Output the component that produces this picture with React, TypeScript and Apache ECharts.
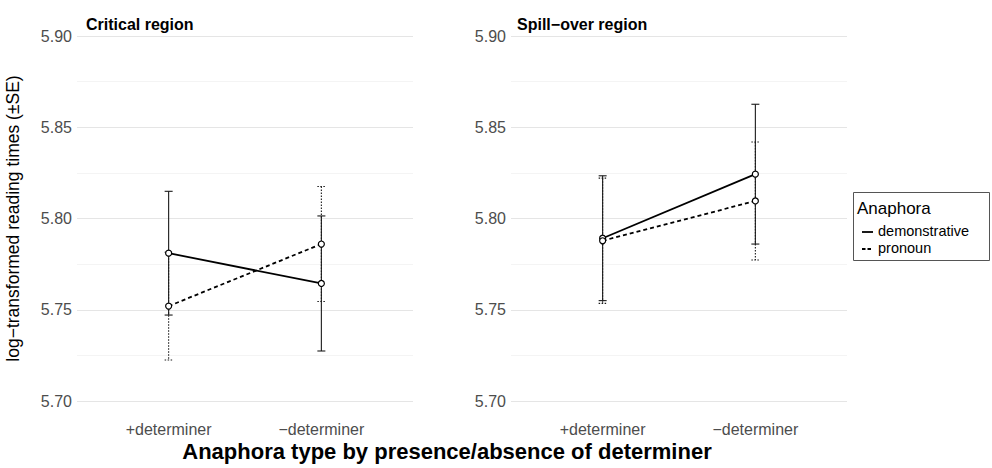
import React, { useEffect, useRef } from "react";
import * as echarts from "echarts";

const categories = ["+determiner", "−determiner"];
const xPositions = [1, 2];
const panelTitles = ["Critical region", "Spill−over region"];
const legendTitle = "Anaphora";
const seriesNames = ["demonstrative", "pronoun"];

const critDemMean = [5.781, 5.7644];
const critDemSE = [0.0339, 0.037];
const critProMean = [5.752, 5.786];
const critProSE = [0.0295, 0.0315];

const spillDemMean = [5.7892, 5.8243];
const spillDemSE = [0.0342, 0.0383];
const spillProMean = [5.7878, 5.8096];
const spillProSE = [0.0343, 0.0323];

const yTicks = [5.7, 5.75, 5.8, 5.85, 5.9];

const FONT = "'Liberation Sans', Arial, Helvetica, sans-serif";

function pts(means: number[]) {
  return means.map((m, i) => [xPositions[i], m]);
}
function bars(means: number[], se: number[]) {
  return means.map((m, i) => [xPositions[i], m - se[i], m + se[i]]);
}

function errorSeries(data: number[][], gi: number, dotted: boolean, z: number) {
  return {
    type: "custom",
    xAxisIndex: gi,
    yAxisIndex: gi,
    z,
    silent: true,
    data,
    renderItem: (params: any, api: any) => {
      const x = api.value(0);
      const lo = api.value(1);
      const hi = api.value(2);
      const pLo = api.coord([x, lo]);
      const pHi = api.coord([x, hi]);
      const hw = 4;
      const style: any = {
        stroke: "#1a1a1a",
        lineWidth: 1.1,
        lineDash: dotted ? [1.5, 1.5] : null,
        fill: null,
      };
      return {
        type: "group",
        children: [
          { type: "line", shape: { x1: pHi[0], y1: pHi[1], x2: pLo[0], y2: pLo[1] }, style },
          { type: "line", shape: { x1: pHi[0] - hw, y1: pHi[1], x2: pHi[0] + hw, y2: pHi[1] }, style },
          { type: "line", shape: { x1: pLo[0] - hw, y1: pLo[1], x2: pLo[0] + hw, y2: pLo[1] }, style },
        ],
      };
    },
  };
}

function lineSeries(name: string, data: number[][], gi: number, dashed: boolean) {
  return {
    type: "line",
    name,
    xAxisIndex: gi,
    yAxisIndex: gi,
    z: 5,
    data,
    symbol: "circle",
    symbolSize: 6,
    showSymbol: true,
    itemStyle: { color: "#ffffff", borderColor: "#000000", borderWidth: 1.2 },
    lineStyle: { color: "#000000", width: 1.8, type: dashed ? [4, 3] : "solid" },
    emphasis: { disabled: true },
  };
}

export default function App() {
  const ref = useRef<HTMLDivElement>(null);
  useEffect(() => {
    if (!ref.current) return;
    const chart = echarts.init(ref.current, null, { renderer: "svg" });
    const grids = [
      { left: 77, top: 36, width: 336, height: 365 },
      { left: 511, top: 36, width: 336, height: 365 },
    ];
    const xAxes = grids.map((_, i) => ({
      type: "value",
      gridIndex: i,
      min: 0.4,
      max: 2.6,
      axisLine: { show: false },
      axisTick: { show: false },
      splitLine: { show: false },
      axisLabel: {
        customValues: xPositions,
        formatter: (v: number) => {
          const idx = xPositions.indexOf(Math.round(v));
          return idx >= 0 ? categories[idx] : "";
        },
        color: "#4d4d4d",
        fontSize: 16,
        fontFamily: FONT,
        margin: 20,
      },
    }));
    const yAxes = grids.map((_, i) => ({
      type: "value",
      gridIndex: i,
      min: yTicks[0],
      max: yTicks[yTicks.length - 1],
      interval: 0.05,
      name: i === 0 ? "log−transformed reading times (±SE)" : "",
      nameLocation: "middle",
      nameRotate: 90,
      nameGap: 55,
      nameTextStyle: { color: "#000", fontSize: 17.5, fontFamily: FONT },
      axisLine: { show: false },
      axisTick: { show: false },
      axisLabel: {
        formatter: (v: number) => v.toFixed(2),
        color: "#4d4d4d",
        fontSize: 16,
        fontFamily: FONT,
        margin: 5,
      },
      splitLine: { show: true, lineStyle: { color: "#e5e5e5", width: 1 } },
      minorTick: { show: false, splitNumber: 2 },
      minorSplitLine: { show: true, lineStyle: { color: "#efefef", width: 0.7 } },
    }));

    const option: any = {
      animation: false,
      backgroundColor: "#ffffff",
      textStyle: { fontFamily: FONT },
      grid: grids,
      xAxis: xAxes,
      yAxis: yAxes,
      title: [
        {
          text: panelTitles[0],
          left: 81,
          top: 11,
          textStyle: { fontSize: 16, fontWeight: "bold", color: "#000", fontFamily: FONT },
        },
        {
          text: panelTitles[1],
          left: 512,
          top: 11,
          textStyle: { fontSize: 16, fontWeight: "bold", color: "#000", fontFamily: FONT },
        },
      ],
      series: [
        errorSeries(bars(critProMean, critProSE), 0, true, 2),
        errorSeries(bars(critDemMean, critDemSE), 0, false, 3),
        errorSeries(bars(spillProMean, spillProSE), 1, true, 2),
        errorSeries(bars(spillDemMean, spillDemSE), 1, false, 3),
        lineSeries(seriesNames[0], pts(critDemMean), 0, false),
        lineSeries(seriesNames[1], pts(critProMean), 0, true),
        lineSeries(seriesNames[0], pts(spillDemMean), 1, false),
        lineSeries(seriesNames[1], pts(spillProMean), 1, true),
      ],
      graphic: [
        {
          type: "text",
          x: 447,
          y: 451,
          style: {
            text: "Anaphora type by presence/absence of determiner",
            fontSize: 22,
            fontWeight: "bold",
            fontFamily: FONT,
            fill: "#000",
            textAlign: "center",
            textVerticalAlign: "middle",
          },
        },
        {
          type: "rect",
          shape: { x: 853.5, y: 192.5, width: 136, height: 68 },
          style: { fill: "#fff", stroke: "#555", lineWidth: 1 },
        },
        {
          type: "text",
          x: 857,
          y: 208,
          style: {
            text: legendTitle,
            fontSize: 17,
            fontFamily: FONT,
            fill: "#000",
            textVerticalAlign: "middle",
          },
        },
        {
          type: "line",
          shape: { x1: 862, y1: 232, x2: 873, y2: 232 },
          style: { stroke: "#000", lineWidth: 1.8 },
        },
        {
          type: "line",
          shape: { x1: 862, y1: 249, x2: 873, y2: 249 },
          style: { stroke: "#000", lineWidth: 1.8, lineDash: [3.5, 2] },
        },
        {
          type: "text",
          x: 878,
          y: 231,
          style: {
            text: seriesNames[0],
            fontSize: 14.5,
            fontFamily: FONT,
            fill: "#000",
            textVerticalAlign: "middle",
          },
        },
        {
          type: "text",
          x: 878,
          y: 248,
          style: {
            text: seriesNames[1],
            fontSize: 14.5,
            fontFamily: FONT,
            fill: "#000",
            textVerticalAlign: "middle",
          },
        },
      ],
    };
    chart.setOption(option);
    return () => chart.dispose();
  }, []);
  return (
    <div
      ref={ref}
      style={{ position: "fixed", left: 0, top: 0, width: 992, height: 468, background: "#fff" }}
    />
  );
}
